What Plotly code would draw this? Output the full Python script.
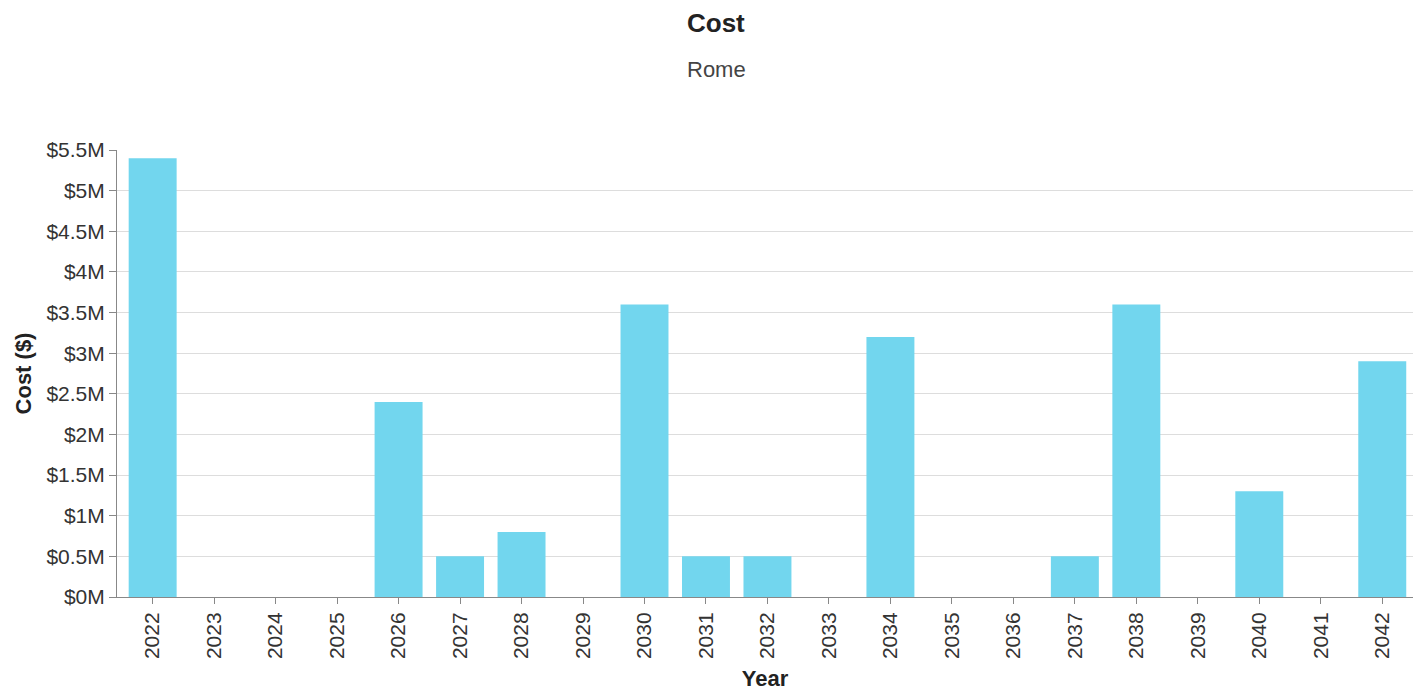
import plotly.graph_objects as go

# Annual cost per year (USD)
years = [str(y) for y in range(2022, 2043)]
costs = [5.4e6, 0, 0, 0, 2.4e6, 0.5e6, 0.8e6, 0, 3.6e6, 0.5e6, 0.5e6, 0,
         3.2e6, 0, 0, 0.5e6, 3.6e6, 0, 1.3e6, 0, 2.9e6]

y_tick_vals = [i * 0.5e6 for i in range(12)]
y_tick_text = ["$0M", "$0.5M", "$1M", "$1.5M", "$2M", "$2.5M", "$3M",
               "$3.5M", "$4M", "$4.5M", "$5M", "$5.5M"]

FONT = "Liberation Sans, Arial, sans-serif"
W, H = 1421, 691
M_L, M_R, M_T, M_B = 117, 8, 150, 94

fig = go.Figure(
    go.Bar(x=years, y=costs, marker=dict(color="#72d6ee", line=dict(width=0)))
)


def paper_x(px):
    return (px - M_L) / (W - M_L - M_R)


def paper_y(py):
    return (H - M_B - py) / (H - M_T - M_B)


fig.update_layout(
    width=W,
    height=H,
    margin=dict(l=M_L, r=M_R, t=M_T, b=M_B),
    paper_bgcolor="white",
    plot_bgcolor="white",
    bargap=0.22,
    showlegend=False,
    font=dict(family=FONT, color="#333"),
    annotations=[
        dict(text="<b>Cost</b>", x=paper_x(716), y=paper_y(23),
             xref="paper", yref="paper", xanchor="center", yanchor="middle",
             showarrow=False, font=dict(size=26, color="#222")),
        dict(text="Rome", x=paper_x(716), y=paper_y(70),
             xref="paper", yref="paper", xanchor="center", yanchor="middle",
             showarrow=False, font=dict(size=22, color="#444")),
    ],
)

fig.update_xaxes(
    type="category",
    range=[-0.58, 20.5],
    automargin=False,
    tickangle=-90,
    tickfont=dict(size=21, color="#333"),
    ticks="outside",
    ticklen=6,
    tickcolor="#888",
    showline=True,
    linecolor="#888",
    linewidth=1,
    showgrid=False,
    title=dict(text="<b>Year</b>", font=dict(size=22, color="#222"), standoff=12),
)

fig.update_yaxes(
    range=[0, 5.5e6],
    automargin=False,
    tickvals=y_tick_vals,
    ticktext=y_tick_text,
    tickfont=dict(size=21, color="#333"),
    ticks="outside",
    ticklen=7,
    tickcolor="#888",
    showline=True,
    linecolor="#888",
    linewidth=1,
    showgrid=True,
    gridcolor="#dddddd",
    zeroline=False,
    title=dict(text="<b>Cost ($)</b>", font=dict(size=22, color="#222"), standoff=8),
)

fig.write_html("out.html")
